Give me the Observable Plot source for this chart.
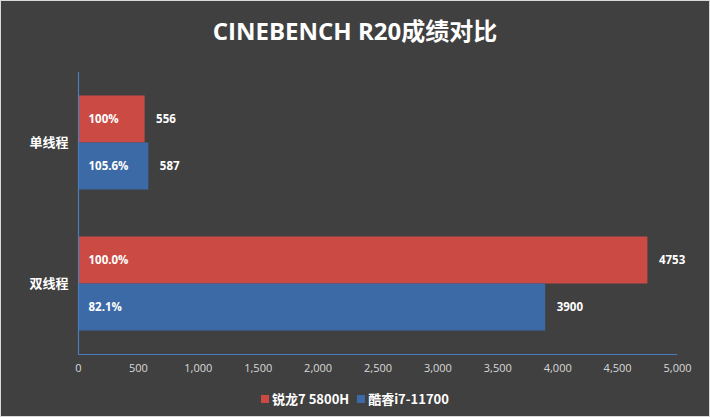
<!DOCTYPE html>
<html><head><meta charset="utf-8">
<script src="https://cdn.jsdelivr.net/npm/d3@7"></script>
<script src="https://cdn.jsdelivr.net/npm/@observablehq/plot@0.6"></script>
<style>
html,body{margin:0;padding:0;background:#404040;}
#wrap{position:relative;width:710px;height:417px;background:#404040;overflow:hidden;font-family:"Noto Sans CJK SC","Open Sans",sans-serif;}
#border{position:absolute;left:0;top:0;width:708px;height:415px;border:1px solid #d9d9d9;pointer-events:none;}
#title{height:56px;line-height:62px;text-align:center;color:#fff;font-weight:bold;font-size:24px;font-family:"Open Sans","Noto Sans CJK SC",sans-serif;}
#legend{display:flex;justify-content:center;align-items:center;gap:8px;color:#fff;font-weight:bold;font-size:13px;margin-top:5px;}
#legend span.sw{display:inline-block;width:8px;height:8px;margin-right:3px;vertical-align:middle;}
#legend .item{display:flex;align-items:center;}
svg{display:block;}
</style></head>
<body><div id="wrap"><div id="title">CINEBENCH R20成绩对比</div><div id="chart"></div>
<div id="legend"></div><div id="border"></div></div>
<script>
const categories = ["单线程", "双线程"];
const seriesNames = ["锐龙7 5800H", "酷睿i7-11700"];
const ryzenValues = [556, 4753];
const intelValues = [587, 3900];
const ryzenPct = ["100%", "100.0%"];
const intelPct = ["105.6%", "82.1%"];
const xTicks = [0, 500, 1000, 1500, 2000, 2500, 3000, 3500, 4000, 4500, 5000];
const colors = ["#cb4a44", "#3b6aa6"];

const rows = [];
categories.forEach((c, i) => {
  rows.push({cat: c, series: seriesNames[0], value: ryzenValues[i], pct: ryzenPct[i]});
  rows.push({cat: c, series: seriesNames[1], value: intelValues[i], pct: intelPct[i]});
});
const red = rows.filter(d => d.series === seriesNames[0]);
const blue = rows.filter(d => d.series === seriesNames[1]);

const bandH = 141, barH = 47, inset = (bandH - barH) / 2;
const labelStyle = {fill: "#fff", fontWeight: "bold", fontSize: 11.5, fontFamily: "Open Sans, sans-serif"};

const chart = Plot.plot({
  width: 710, height: 328,
  marginLeft: 78, marginRight: 33, marginTop: 16, marginBottom: 30,
  style: {background: "transparent", color: "#d9d9d9", fontFamily: "Open Sans, sans-serif"},
  x: {domain: [0, 5000], ticks: xTicks, tickFormat: d3.format(","), tickSize: 0, tickPadding: 10, label: null},
  y: {domain: categories, padding: 0, tickSize: 0, tickPadding: 10, label: null},
  color: {domain: seriesNames, range: colors},
  marks: [
    Plot.barX(red, {x: "value", y: "cat", fill: "series", insetTop: inset, insetBottom: inset, dy: -barH / 2}),
    Plot.barX(blue, {x: "value", y: "cat", fill: "series", insetTop: inset, insetBottom: inset, dy: barH / 2}),
    Plot.text(red, {x: 0, y: "cat", text: "pct", textAnchor: "start", dx: 10, dy: -barH / 2, ...labelStyle}),
    Plot.text(blue, {x: 0, y: "cat", text: "pct", textAnchor: "start", dx: 10, dy: barH / 2, ...labelStyle}),
    Plot.text(red, {x: "value", y: "cat", text: d => String(d.value), textAnchor: "start", dx: 11, dy: -barH / 2, ...labelStyle}),
    Plot.text(blue, {x: "value", y: "cat", text: d => String(d.value), textAnchor: "start", dx: 11, dy: barH / 2, ...labelStyle}),
    Plot.ruleX([0], {stroke: "#4a7ebb", strokeWidth: 1.2}),
    Plot.ruleY([categories[categories.length - 1]], {stroke: "#4a7ebb", strokeWidth: 1.2, dy: bandH / 2}),
  ]
});
document.getElementById("chart").appendChild(chart);

chart.querySelectorAll("g[aria-label='y-axis tick label'] text").forEach(t => {
  t.setAttribute("fill", "#fff");
  t.style.fontWeight = "bold";
  t.style.fontSize = "13px";
  t.style.fontFamily = "Noto Sans CJK SC, sans-serif";
});
chart.querySelectorAll("g[aria-label='x-axis tick label'] text").forEach(t => {
  t.style.fontSize = "11px";
});

const legend = document.getElementById("legend");
seriesNames.forEach((s, i) => {
  const it = document.createElement("div");
  it.className = "item";
  it.innerHTML = `<span class="sw" style="background:${colors[i]}"></span>${s}`;
  legend.appendChild(it);
});
</script></body></html>
